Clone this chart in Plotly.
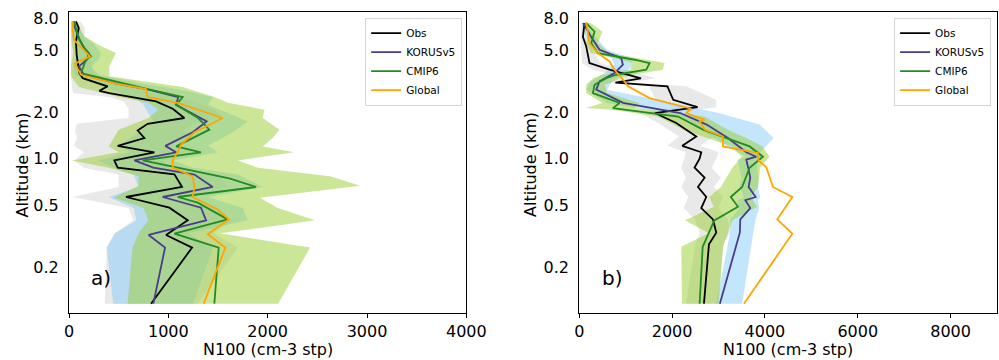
import plotly.graph_objects as go

# ---------------- Panel a) ----------------
obs_a_alt = [0.116, 0.267, 0.322, 0.40, 0.483, 0.566, 0.657, 0.792, 0.875, 0.975, 1.10, 1.21, 1.36, 1.52, 1.68, 1.83, 2.10, 2.34, 2.65, 2.74, 2.93, 3.31, 3.57, 4.69, 5.71, 6.97, 7.69]
obs_a = [826, 1239, 977, 1195, 1010, 574, 1138, 1061, 490, 456, 859, 490, 759, 691, 792, 1161, 1044, 876, 406, 305, 389, 138, 104, 77, 70, 98, 70]

kor_a_alt = [0.116, 0.267, 0.322, 0.40, 0.483, 0.566, 0.657, 0.79, 0.875, 0.975, 1.10, 1.21, 1.48, 1.61, 1.74, 2.23, 2.50, 2.81, 3.05, 3.48, 3.94, 4.35, 4.8, 5.2, 6.0, 7.0, 7.7]
kor_a = [849, 967, 802, 1380, 1329, 943, 1447, 1262, 849, 658, 1078, 970, 1245, 1319, 1386, 1078, 1100, 780, 480, 150, 100, 180, 200, 150, 100, 60, 40]

cmip_a_alt = [0.116, 0.267, 0.328, 0.406, 0.52, 0.566, 0.657, 0.746, 0.975, 1.10, 1.20, 1.54, 1.83, 2.23, 2.50, 2.81, 3.57, 4.35, 4.57, 5.17, 5.85, 7.0, 7.7]
cmip_a = [1463, 1507, 1061, 1598, 1296, 1095, 1883, 1614, 742, 1329, 1078, 1413, 1300, 1078, 1145, 792, 121, 171, 221, 154, 104, 70, 50]

glob_a_alt = [0.116, 0.267, 0.325, 0.406, 0.47, 0.566, 0.657, 0.77, 0.875, 0.975, 1.10, 1.23, 1.48, 1.83, 2.29, 2.50, 2.81, 3.05, 3.48, 4.10, 4.57, 5.0, 5.85, 6.8, 7.7]
glob_a = [1356, 1574, 1396, 1608, 1497, 1245, 1262, 1245, 1044, 1044, 1094, 1128, 1262, 1548, 1094, 792, 775, 473, 121, 60, 211, 150, 50, 37, 40]

obsband_a_alt = [0.116, 0.267, 0.33, 0.40, 0.48, 0.566, 0.657, 0.79, 0.875, 0.975, 1.10, 1.21, 1.36, 1.52, 1.68, 1.83, 2.10, 2.34, 2.50, 2.65, 2.93, 3.31, 3.57, 4.69, 5.71, 6.97, 7.69]
obs_lo_a = [360, 380, 460, 650, 600, 40, 500, 500, 150, 50, 150, 50, 80, 60, 80, 600, 600, 550, 400, 40, 30, 20, 20, 20, 20, 40, 30]
obs_hi_a = [1300, 1700, 1450, 1650, 1450, 1100, 1600, 1500, 1000, 950, 1300, 1000, 1250, 1150, 1250, 1550, 1450, 1250, 1100, 800, 750, 350, 250, 200, 150, 160, 120]

korband_a_alt = [0.116, 0.267, 0.33, 0.40, 0.48, 0.566, 0.657, 0.79, 0.875, 0.975, 1.10, 1.21, 1.48, 1.74, 2.23, 2.50, 2.81, 3.05, 3.48, 3.94, 4.35, 4.8, 5.5, 6.2, 7.7]
kor_lo_a = [446, 380, 463, 680, 650, 400, 700, 650, 450, 300, 600, 500, 700, 850, 750, 650, 400, 250, 60, 40, 60, 80, 50, 30, 20]
kor_hi_a = [1250, 1450, 1200, 1800, 1750, 1400, 1950, 1700, 1250, 1050, 1500, 1400, 1650, 1800, 1400, 1450, 1100, 750, 300, 220, 300, 320, 250, 150, 60]

cmipband_a_alt = [0.116, 0.267, 0.33, 0.40, 0.48, 0.56, 0.67, 0.77, 0.875, 0.975, 1.10, 1.20, 1.36, 1.54, 1.83, 2.07, 2.30, 2.50, 2.90, 3.40, 3.94, 4.8, 5.4, 6.2, 7.7]
cmip_lo_a = [590, 640, 700, 800, 750, 450, 700, 700, 400, 30, 500, 400, 450, 500, 800, 900, 800, 500, 100, 20, 20, 40, 30, 20, 20]
cmip_hi_a = [2105, 2427, 1520, 2477, 2100, 1923, 2933, 2628, 1900, 1700, 2269, 1950, 2050, 2118, 1950, 1967, 1600, 1463, 1145, 406, 406, 473, 305, 150, 80]

# ---------------- Panel b) ----------------
obs_b_alt = [0.116, 0.28, 0.333, 0.406, 0.48, 0.566, 0.657, 0.754, 0.875, 1.0, 1.10, 1.21, 1.39, 1.70, 1.97, 2.15, 2.40, 2.93, 3.10, 3.30, 3.75, 4.14, 5.3, 6.1, 7.5]
obs_b = [2687, 2795, 2953, 2881, 2629, 2737, 2558, 2701, 2485, 2593, 2629, 2220, 2522, 2090, 1630, 2550, 2025, 1900, 780, 1330, 653, 222, 151, 80, 114]

kor_b_alt = [0.116, 0.333, 0.406, 0.48, 0.54, 0.566, 0.657, 0.754, 0.875, 0.985, 1.03, 1.10, 1.36, 1.66, 1.97, 2.29, 2.79, 3.15, 3.57, 4.04, 4.46, 5.04, 6.1, 7.5]
kor_b = [3030, 3460, 3470, 3685, 3578, 3800, 3650, 3685, 3640, 3599, 3815, 3599, 3204, 2745, 2177, 945, 366, 437, 760, 941, 905, 437, 258, 86]

cmip_b_alt = [0.116, 0.27, 0.40, 0.49, 0.566, 0.657, 0.875, 1.03, 1.2, 1.36, 1.54, 1.87, 2.07, 2.12, 2.29, 2.65, 3.0, 3.31, 3.48, 3.75, 4.14, 4.35, 4.8, 5.55, 6.6, 7.5]
cmip_b = [2593, 2660, 2910, 3420, 3265, 3510, 3670, 3958, 3670, 3168, 2665, 2127, 1084, 726, 869, 295, 330, 582, 797, 1444, 1515, 1192, 400, 258, 330, 151]

glob_b_alt = [0.116, 0.328, 0.406, 0.566, 0.657, 0.88, 0.985, 1.09, 1.2, 1.39, 1.54, 1.74, 1.78, 1.97, 2.10, 2.46, 2.93, 3.15, 3.75, 4.24, 4.8, 5.55, 7.6]
glob_b = [3549, 4591, 4267, 4591, 4174, 4030, 3851, 3851, 3096, 3096, 2701, 2593, 2701, 2306, 2414, 1515, 1049, 977, 760, 653, 403, 222, 151]

obs_lo_b = [2300, 2500, 2600, 2500, 2250, 2350, 2200, 2300, 2200, 2250, 2300, 1900, 2150, 1700, 1300, 2100, 1650, 1500, 500, 1000, 300, 60, 50, 30, 50]
obs_hi_b = [3000, 3100, 3250, 3200, 3000, 3100, 2900, 3050, 2850, 2950, 3000, 2600, 2900, 2500, 2000, 2950, 2950, 2300, 1100, 1650, 1000, 450, 250, 150, 150]

kor_lo_b = [2950, 3250, 3250, 3450, 3400, 3550, 3450, 3500, 3450, 3400, 3600, 3400, 2900, 2500, 1900, 600, 150, 250, 550, 750, 700, 300, 150, 50]
kor_hi_b = [3510, 3750, 3800, 3880, 3850, 3900, 3850, 3870, 3830, 3850, 3950, 3900, 4188, 3886, 3000, 2000, 600, 700, 1000, 1150, 1100, 600, 350, 120]

cmipband_b_alt = [0.116, 0.27, 0.33, 0.40, 0.49, 0.566, 0.657, 0.875, 1.03, 1.2, 1.36, 1.54, 1.87, 2.07, 2.12, 2.29, 2.65, 3.0, 3.31, 3.48, 3.75, 4.14, 4.35, 4.8, 5.55, 6.6, 7.5]
cmip_lo_b = [2213, 2198, 2787, 2284, 2900, 2800, 3050, 3300, 3500, 3300, 2750, 2250, 1700, 700, 150, 500, 150, 150, 300, 500, 1100, 1150, 900, 250, 150, 180, 80]
cmip_hi_b = [3000, 3100, 3200, 3300, 3830, 3700, 3850, 3900, 4100, 3950, 3600, 3200, 2700, 1500, 1200, 1300, 600, 550, 900, 1150, 1800, 1839, 1500, 650, 400, 500, 250]

series_names = ["Obs", "KORUSv5", "CMIP6", "Global"]
series_colors = ["black", "darkslateblue", "forestgreen", "orange"]
band_colors = ["rgba(211,211,211,0.5)", "rgba(135,206,250,0.5)", "rgba(154,205,50,0.5)"]

y_tickvals = [0.2, 0.5, 1.0, 2.0, 5.0, 8.0]
y_ticktext = ["0.2", "0.5", "1.0", "2.0", "5.0", "8.0"]
xa_ticks = [0, 1000, 2000, 3000, 4000]
xb_ticks = [0, 2000, 4000, 6000, 8000]

FONT = "DejaVu Sans"
fig = go.Figure()


def add_band(alt, lo, hi, color, xa, ya):
    xs = list(lo) + list(hi)[::-1]
    ys = list(alt) + list(alt)[::-1]
    fig.add_trace(go.Scatter(x=xs, y=ys, fill="toself", fillcolor=color, mode="lines",
                             line=dict(width=0, color=color), hoverinfo="skip",
                             showlegend=False, xaxis=xa, yaxis=ya))


def add_line(alt, vals, name, color, xa, ya, legend):
    fig.add_trace(go.Scatter(x=vals, y=alt, mode="lines", name=name,
                             line=dict(color=color, width=1.8),
                             xaxis=xa, yaxis=ya, legend=legend))


add_band(obsband_a_alt, obs_lo_a, obs_hi_a, band_colors[0], "x", "y")
add_band(korband_a_alt, kor_lo_a, kor_hi_a, band_colors[1], "x", "y")
add_band(cmipband_a_alt, cmip_lo_a, cmip_hi_a, band_colors[2], "x", "y")
for alt, v, n, c in zip([obs_a_alt, kor_a_alt, cmip_a_alt, glob_a_alt], [obs_a, kor_a, cmip_a, glob_a], series_names, series_colors):
    add_line(alt, v, n, c, "x", "y", "legend")

add_band(obs_b_alt, obs_lo_b, obs_hi_b, band_colors[0], "x2", "y2")
add_band(kor_b_alt, kor_lo_b, kor_hi_b, band_colors[1], "x2", "y2")
add_band(cmipband_b_alt, cmip_lo_b, cmip_hi_b, band_colors[2], "x2", "y2")
for alt, v, n, c in zip([obs_b_alt, kor_b_alt, cmip_b_alt, glob_b_alt], [obs_b, kor_b, cmip_b, glob_b], series_names, series_colors):
    add_line(alt, v, n, c, "x2", "y2", "legend2")

W, H = 999, 360
ml, mr, mt, mb = 69, 2.4, 12.3, 46.7
pw = W - ml - mr
ph = H - mt - mb


def px_x(p):
    return (p - ml) / pw


def px_y(p):
    return (H - mb - p) / ph


axis_common = dict(showline=True, linecolor="black", linewidth=1, mirror=True,
                   showgrid=False, zeroline=False, automargin=False,
                   tickfont=dict(family=FONT, size=16, color="black"))
yrange = [-0.9957, 0.9465]

legend_common = dict(bgcolor="rgba(255,255,255,0.85)", bordercolor="#d5d5d5", borderwidth=1,
                     font=dict(family=FONT, size=10.5, color="black"),
                     xanchor="right", yanchor="top", tracegroupgap=0)

fig.update_layout(
    template="none",
    width=W, height=H, margin=dict(l=ml, r=mr, t=mt, b=mb, autoexpand=False),
    paper_bgcolor="white", plot_bgcolor="white",
    font=dict(family=FONT, color="black"),
    xaxis=dict(domain=[0, px_x(466.2)], range=[0, 4000], tickvals=xa_ticks, anchor="y",
               ticks="outside", ticklen=4, tickcolor="black", **axis_common),
    yaxis=dict(domain=[0, 1], type="log", range=yrange, tickvals=y_tickvals, ticktext=y_ticktext,
               anchor="x", ticks="", ticklabelstandoff=6, **axis_common),
    xaxis2=dict(domain=[px_x(579), 1], range=[0, 9000], tickvals=xb_ticks, anchor="y2",
                ticks="outside", ticklen=4, tickcolor="black", **axis_common),
    yaxis2=dict(domain=[0, 1], type="log", range=yrange, tickvals=y_tickvals, ticktext=y_ticktext,
                anchor="x2", ticks="", ticklabelstandoff=6, **axis_common),
    legend=dict(x=px_x(462), y=px_y(18), **legend_common),
    legend2=dict(x=px_x(990.7), y=px_y(18), **legend_common),
    showlegend=True,
)

ann_font = dict(family=FONT, size=16, color="black")
fig.add_annotation(text="N100 (cm-3 stp)", xref="paper", yref="paper", x=px_x(267.5), y=px_y(350),
                   showarrow=False, font=ann_font, xanchor="center", yanchor="middle")
fig.add_annotation(text="N100 (cm-3 stp)", xref="paper", yref="paper", x=px_x(787.5), y=px_y(350),
                   showarrow=False, font=ann_font, xanchor="center", yanchor="middle")
fig.add_annotation(text="Altitude (km)", xref="paper", yref="paper", x=px_x(22.7), y=px_y(165),
                   showarrow=False, font=ann_font, textangle=-90, xanchor="center", yanchor="middle")
fig.add_annotation(text="Altitude (km)", xref="paper", yref="paper", x=px_x(531), y=px_y(165),
                   showarrow=False, font=ann_font, textangle=-90, xanchor="center", yanchor="middle")
fig.add_annotation(text="a)", xref="paper", yref="paper", x=px_x(89), y=px_y(278),
                   showarrow=False, font=dict(family=FONT, size=20, color="black"), xanchor="left", yanchor="middle")
fig.add_annotation(text="b)", xref="paper", yref="paper", x=px_x(600), y=px_y(278),
                   showarrow=False, font=dict(family=FONT, size=20, color="black"), xanchor="left", yanchor="middle")

fig.write_html("out.html", config={"responsive": False, "displayModeBar": False},
               post_script="document.body.style.margin='0px';document.body.style.padding='0px';")
